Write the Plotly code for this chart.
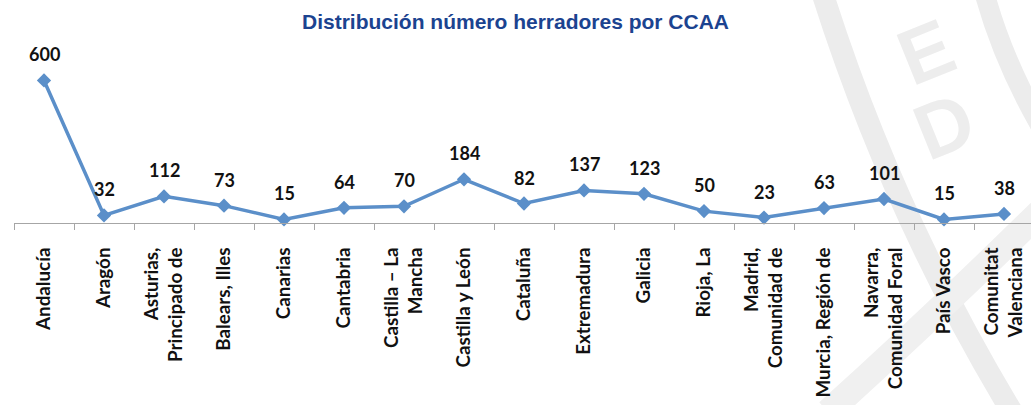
import plotly.graph_objects as go

# Number of farriers per autonomous community
comunidades = [
    "Andalucía", "Aragón", "Asturias,<br>Principado de", "Balears, Illes",
    "Canarias", "Cantabria", "Castilla – La<br>Mancha", "Castilla y León",
    "Cataluña", "Extremadura", "Galicia", "Rioja, La",
    "Madrid,<br>Comunidad de", "Murcia, Región de", "Navarra,<br>Comunidad Foral",
    "País Vasco", "Comunitat<br>Valenciana",
]
herradores = [600, 32, 112, 73, 15, 64, 70, 184, 82, 137, 123, 50, 23, 63, 101, 15, 38]

W, H = 1031, 405
M_L, M_T, M_B = 14, 40, 182
PLOT_W = W - M_L
PLOT_H = H - M_T - M_B

LINE_COLOR = "#5B8FC9"
WM = "#ececec"


def px(x, y):
    """Pixel position -> paper coordinates of the plot area."""
    return (x - M_L) / PLOT_W, (H - M_B - y) / PLOT_H


def qpath(p0, c, p1):
    a, b, d = px(*p0), px(*c), px(*p1)
    return f"M {a[0]},{a[1]} Q {b[0]},{b[1]} {d[0]},{d[1]}"


fig = go.Figure()
fig.add_trace(go.Scatter(
    x=comunidades, y=herradores, mode="lines+markers",
    line=dict(color=LINE_COLOR, width=3.5),
    marker=dict(symbol="diamond", size=11, color=LINE_COLOR),
    cliponaxis=False, hoverinfo="skip",
))

# value labels above each point
annotations = [
    dict(x=c, y=v, text=f"<b>{v}</b>", showarrow=False, yshift=26,
         font=dict(family="Lato", size=18, color="#111111"))
    for c, v in zip(comunidades, herradores)
]

# light seal watermark at the right edge
shapes = [
    dict(type="path", xref="paper", yref="paper", layer="below",
         path=qpath((823, -5), (893, 215), (1012, 412)),
         line=dict(color=WM, width=22)),
    dict(type="path", xref="paper", yref="paper", layer="below",
         path=qpath((985, -5), (1003, 60), (1040, 125)),
         line=dict(color=WM, width=20)),
    dict(type="path", xref="paper", yref="paper", layer="below",
         path=qpath((828, 412), (930, 320), (1040, 212)),
         line=dict(color="#f0f0f0", width=26)),
]
for ch, (xp, yp) in [("E", (926, 52)), ("D", (944, 126))]:
    ax, ay = px(xp, yp)
    annotations.append(dict(
        x=ax, y=ay, xref="paper", yref="paper", text=f"<b>{ch}</b>",
        showarrow=False, textangle=-22, xanchor="center", yanchor="middle",
        font=dict(family="Liberation Sans", size=78, color="#ededed"),
    ))

fig.update_layout(
    width=W, height=H,
    margin=dict(l=M_L, r=0, t=M_T, b=M_B, autoexpand=False),
    paper_bgcolor="white", plot_bgcolor="white",
    showlegend=False,
    title=dict(
        text="<b>Distribución número herradores por CCAA</b>",
        x=0.5, xanchor="center", y=1 - 22 / H, yanchor="middle",
        font=dict(family="Liberation Sans", size=21, color="#1B4390"),
    ),
    xaxis=dict(
        type="category", range=[-0.5, -0.5 + PLOT_W / 60], automargin=False,
        tickson="boundaries", ticks="outside", ticklen=6,
        tickcolor="#a6a6a6", showline=True, linecolor="#a6a6a6",
        linewidth=1, showgrid=False, zeroline=False, tickangle=-90,
        ticklabelstandoff=16,
        tickfont=dict(family="Lato", size=18.8, color="#111111"),
    ),
    yaxis=dict(range=[0, PLOT_H / 0.2376], visible=False, automargin=False,
               showgrid=False, zeroline=False),
    annotations=annotations,
    shapes=shapes,
)

fig.update_xaxes(ticktext=[f"<b>{c}</b>" for c in comunidades],
                 tickvals=comunidades)

fig.write_html("out.html")
